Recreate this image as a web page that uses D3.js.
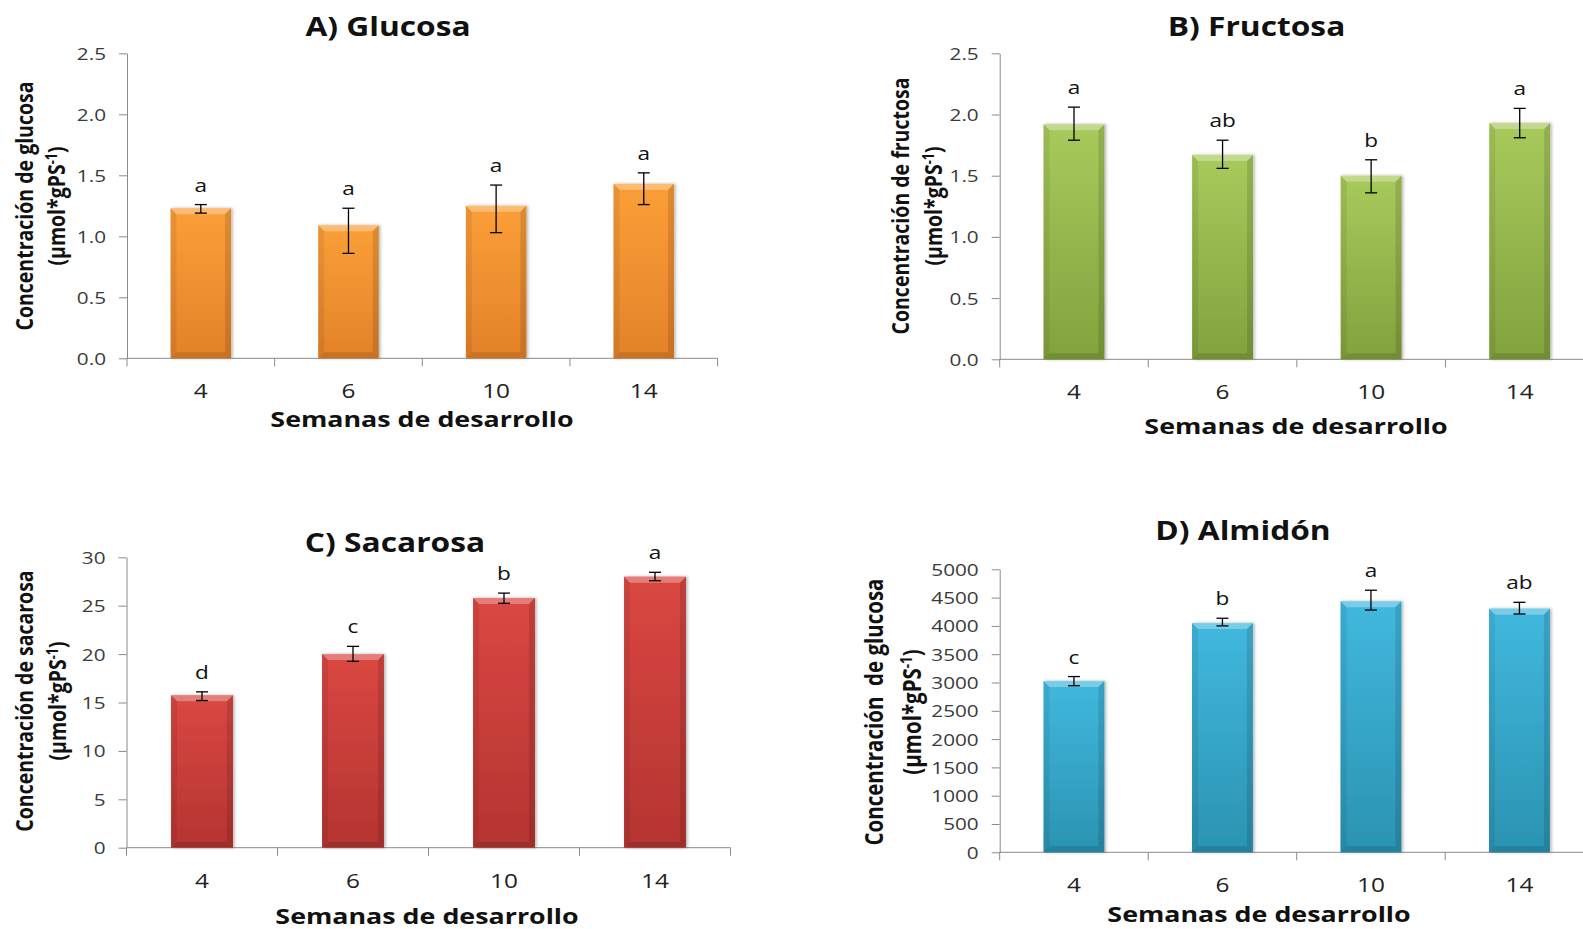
<!DOCTYPE html>
<html>
<head>
<meta charset="utf-8">
<script src="https://cdnjs.cloudflare.com/ajax/libs/d3/7.8.5/d3.min.js"></script>
<style>
    body { margin: 0; background: #fff; }
    svg text { font-family: "Open Sans", sans-serif; }
</style>
</head>
<body>
<svg id="chart" width="1583" height="929"></svg>
<script>
/*global d3 */

// --- data ---
var weeks = ['4', '6', '10', '14'];

var glucosa = [1.23, 1.09, 1.25, 1.43];
var glucosaUp = [0.03, 0.14, 0.17, 0.09];
var glucosaDown = [0.04, 0.23, 0.22, 0.17];
var glucosaLetters = ['a', 'a', 'a', 'a'];
var glucosaTicks = [0, 0.5, 1.0, 1.5, 2.0, 2.5];

var fructosa = [1.92, 1.67, 1.50, 1.93];
var fructosaUp = [0.14, 0.12, 0.13, 0.12];
var fructosaDown = [0.13, 0.11, 0.14, 0.12];
var fructosaLetters = ['a', 'ab', 'b', 'a'];
var fructosaTicks = [0, 0.5, 1.0, 1.5, 2.0, 2.5];

var sacarosa = [15.75, 20.0, 25.8, 28.0];
var sacarosaUp = [0.35, 0.8, 0.5, 0.45];
var sacarosaDown = [0.55, 0.75, 0.55, 0.42];
var sacarosaLetters = ['d', 'c', 'b', 'a'];
var sacarosaTicks = [0, 5, 10, 15, 20, 25, 30];

var almidon = [3025, 4050, 4435, 4305];
var almidonUp = [80, 85, 195, 112];
var almidonDown = [82, 50, 155, 95];
var almidonLetters = ['c', 'b', 'a', 'ab'];
var almidonTicks = [0, 500, 1000, 1500, 2000, 2500, 3000, 3500, 4000, 4500, 5000];

// text in the source is stretched sideways, so every label gets a small x scale
var SX = 1.22;

var svg = d3.select('#chart');
var defs = svg.append('defs');

var palettes = {
    orange: ['#fb9f38', '#e3822a'],
    green: ['#a8ca5c', '#82a23d'],
    red: ['#da4742', '#b53431'],
    blue: ['#41b8de', '#2b93b2']
};

Object.keys(palettes).forEach(function (k) {
    var grad = defs.append('linearGradient')
        .attr('id', 'grad-' + k)
        .attr('x1', 0).attr('x2', 0).attr('y1', 0).attr('y2', 1);
    grad.append('stop').attr('offset', '0%').attr('stop-color', palettes[k][0]);
    grad.append('stop').attr('offset', '100%').attr('stop-color', palettes[k][1]);
});

defs.append('filter')
    .attr('id', 'shadow')
    .attr('x', '-20%').attr('y', '-5%').attr('width', '140%').attr('height', '110%')
    .append('feDropShadow')
    .attr('dx', 1.5).attr('dy', 0).attr('stdDeviation', 1.5)
    .attr('flood-color', '#000').attr('flood-opacity', 0.3);

function stretch(px, py, extra) {
    return 'translate(' + px + ',' + py + ') scale(' + SX + ',1)' + (extra || '');
}

function pts(arr) {
    return arr.map(function (p) { return p.join(','); }).join(' ');
}

var panels = [
    {
        title: 'A) Glucosa', yTitle: 'Concentración de glucosa',
        values: glucosa, up: glucosaUp, down: glucosaDown, letters: glucosaLetters,
        ticks: glucosaTicks, fmt: '.1f', color: 'orange',
        left: 127, right: 717.6, top: 53.3, bottom: 358.3,
        titlePos: [388, 36], xTitlePos: [422, 427],
        yTitlePos: [25, 206], yGap: 32, yTitleSize: 19.5
    },
    {
        title: 'B) Fructosa', yTitle: 'Concentración de fructosa',
        values: fructosa, up: fructosaUp, down: fructosaDown, letters: fructosaLetters,
        ticks: fructosaTicks, fmt: '.1f', color: 'green',
        left: 999.7, right: 1594, top: 53.3, bottom: 359.3,
        titlePos: [1256.5, 36], xTitlePos: [1296, 434],
        yTitlePos: [901, 206], yGap: 33, yTitleSize: 19.5
    },
    {
        title: 'C) Sacarosa', yTitle: 'Concentración de sacarosa',
        values: sacarosa, up: sacarosaUp, down: sacarosaDown, letters: sacarosaLetters,
        ticks: sacarosaTicks, fmt: 'd', color: 'red',
        left: 126.5, right: 730.5, top: 557.3, bottom: 847.7,
        titlePos: [395, 552], xTitlePos: [427, 924],
        yTitlePos: [25, 701], yGap: 33, yTitleSize: 19.5
    },
    {
        title: 'D) Almidón', yTitle: 'Concentración  de glucosa',
        values: almidon, up: almidonUp, down: almidonDown, letters: almidonLetters,
        ticks: almidonTicks, fmt: 'd', color: 'blue',
        left: 999.7, right: 1593.7, top: 569.3, bottom: 852.3,
        titlePos: [1243, 540], xTitlePos: [1259, 922],
        yTitlePos: [874, 712], yGap: 38, yTitleSize: 20.5
    }
];

function drawPanel(cfg) {
    var $g = svg.append('g');
    var ymax = cfg.ticks[cfg.ticks.length - 1];

    var x = d3.scaleBand().domain(weeks).range([cfg.left, cfg.right]);
    var y = d3.scaleLinear().domain([0, ymax]).range([cfg.bottom, cfg.top]);
    var bw = x.bandwidth() * 0.41;
    var data = weeks.map(function (w, i) {
        return { week: w, v: cfg.values[i], up: cfg.up[i], down: cfg.down[i], letter: cfg.letters[i] };
    });

    // y axis
    var $yAxis = $g.append('g')
        .attr('transform', 'translate(' + cfg.left + ',0)')
        .call(d3.axisLeft(y).tickValues(cfg.ticks).tickFormat(d3.format(cfg.fmt)).tickSize(8).tickSizeOuter(0));
    $yAxis.selectAll('path, line').attr('stroke', '#8a8a8a');
    $yAxis.selectAll('.tick text')
        .attr('x', 0)
        .attr('dy', '0.35em')
        .attr('transform', stretch(-21, 0))
        .attr('fill', '#3a3a3a')
        .attr('font-family', '"Open Sans", sans-serif')
        .attr('font-size', 17);

    // x axis: line, boundary ticks, centred labels
    $g.append('line')
        .attr('x1', cfg.left).attr('x2', cfg.right)
        .attr('y1', y(0)).attr('y2', y(0))
        .attr('stroke', '#8a8a8a');
    $g.selectAll('.xtick')
        .data(weeks.concat(['end']))
        .enter().append('line')
        .attr('x1', function (d) { return d === 'end' ? cfg.right : x(d); })
        .attr('x2', function (d) { return d === 'end' ? cfg.right : x(d); })
        .attr('y1', y(0)).attr('y2', y(0) + 8)
        .attr('stroke', '#8a8a8a');
    $g.selectAll('.xlabel')
        .data(weeks)
        .enter().append('text')
        .attr('transform', function (d) { return stretch(x(d) + x.bandwidth() / 2, y(0) + 40); })
        .attr('text-anchor', 'middle')
        .attr('font-size', 20)
        .attr('fill', '#222')
        .text(function (d) { return d; });

    // bars
    var $bars = $g.selectAll('.bar')
        .data(data)
        .enter().append('g');

    $bars.append('rect')
        .attr('x', function (d) { return x(d.week) + (x.bandwidth() - bw) / 2; })
        .attr('y', function (d) { return y(d.v); })
        .attr('width', bw)
        .attr('height', function (d) { return y(0) - y(d.v); })
        .attr('fill', 'url(#grad-' + cfg.color + ')')
        .attr('filter', 'url(#shadow)');

    // bevel edges
    var b = 6;
    $bars.each(function (d) {
        var x0 = x(d.week) + (x.bandwidth() - bw) / 2;
        var x1 = x0 + bw;
        var yt = y(d.v);
        var yb = y(0);
        var $b = d3.select(this);
        $b.append('polygon')
            .attr('points', pts([[x0, yt], [x1, yt], [x1 - b, yt + b], [x0 + b, yt + b]]))
            .attr('fill', '#fff').attr('opacity', 0.3);
        $b.append('polygon')
            .attr('points', pts([[x0, yb], [x1, yb], [x1 - b, yb - b], [x0 + b, yb - b]]))
            .attr('fill', '#000').attr('opacity', 0.12);
        $b.append('polygon')
            .attr('points', pts([[x0, yt], [x0 + b, yt + b], [x0 + b, yb - b], [x0, yb]]))
            .attr('fill', '#000').attr('opacity', 0.07);
        $b.append('polygon')
            .attr('points', pts([[x1, yt], [x1 - b, yt + b], [x1 - b, yb - b], [x1, yb]]))
            .attr('fill', '#000').attr('opacity', 0.12);
    });

    // error bars
    var cap = 6;
    $bars.each(function (d) {
        var cx = x(d.week) + x.bandwidth() / 2;
        var yHi = y(d.v + d.up);
        var yLo = y(d.v - d.down);
        var $e = d3.select(this).append('g')
            .attr('stroke', '#000').attr('stroke-width', 1.3);
        $e.append('line').attr('x1', cx).attr('x2', cx).attr('y1', yHi).attr('y2', yLo);
        $e.append('line').attr('x1', cx - cap).attr('x2', cx + cap).attr('y1', yHi).attr('y2', yHi);
        $e.append('line').attr('x1', cx - cap).attr('x2', cx + cap).attr('y1', yLo).attr('y2', yLo);
    });

    // significance letters
    $bars.append('text')
        .attr('transform', function (d) {
            return stretch(x(d.week) + x.bandwidth() / 2, y(d.v + d.up) - 13);
        })
        .attr('text-anchor', 'middle')
        .attr('font-size', 18.5)
        .attr('fill', '#111')
        .text(function (d) { return d.letter; });

    // titles
    $g.append('text')
        .attr('transform', stretch(cfg.titlePos[0], cfg.titlePos[1]))
        .attr('text-anchor', 'middle')
        .attr('font-size', 26)
        .attr('font-weight', 700)
        .attr('fill', '#111')
        .text(cfg.title);

    $g.append('text')
        .attr('transform', stretch(cfg.xTitlePos[0], cfg.xTitlePos[1]))
        .attr('text-anchor', 'middle')
        .attr('font-size', 22)
        .attr('font-weight', 700)
        .attr('fill', '#111')
        .text('Semanas de desarrollo');

    var $yt = $g.append('g')
        .attr('transform', stretch(cfg.yTitlePos[0], cfg.yTitlePos[1], ' rotate(-90)'))
        .attr('font-size', cfg.yTitleSize)
        .attr('font-weight', 700)
        .attr('fill', '#111')
        .attr('text-anchor', 'middle');
    $yt.append('text')
        .attr('dy', '0.35em')
        .style('white-space', 'pre')
        .text(cfg.yTitle);
    var $unit = $yt.append('text')
        .attr('y', cfg.yGap / SX)
        .attr('dy', '0.35em');
    $unit.append('tspan').text('(µmol*gPS');
    $unit.append('tspan').attr('font-size', cfg.yTitleSize * 0.65).attr('dy', -7).text('-1');
    $unit.append('tspan').attr('dy', 7).text(')');
}

panels.forEach(drawPanel);
</script>
</body>
</html>
